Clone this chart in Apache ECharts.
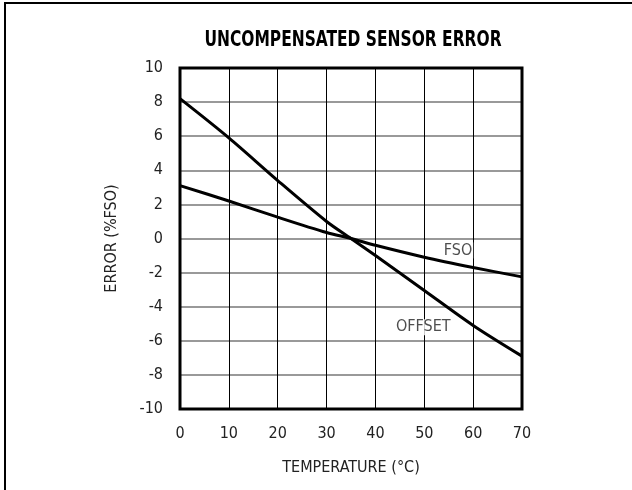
<!DOCTYPE html>
<html>
<head>
<meta charset="utf-8">
<script src="https://cdn.jsdelivr.net/npm/echarts@6/dist/echarts.min.js"></script>
<style>
  html, body { margin: 0; padding: 0; background: #fff; }
  #mychart { width: 632px; height: 490px; }
</style>
</head>
<body>
<div id="mychart"></div>
<script>
// temperature (°C)
let temps = [0, 10, 20, 30, 35, 40, 50, 60, 70]
// error (%FSO)
let offsetErr = [8.2, 5.9, 3.4, 1.0, 0.0, -1.0, -3.05, -5.1, -6.9]
let fsoErr = [3.1, 2.2, 1.25, 0.35, 0.0, -0.4, -1.1, -1.7, -2.25]

let labels = [
    { name: 'FSO', x: 56.9, y: -0.7 },
    { name: 'OFFSET', x: 49.8, y: -5.2 }
]

let chartTitle = 'UNCOMPENSATED SENSOR ERROR'

let font = '"Liberation Sans Narrow", "DejaVu Sans Condensed", sans-serif'

// plot box, shared by grid and the black frame drawn over it
let box = { left: 180, top: 68, width: 342, height: 341 }

function pairs(ys) {
    let out = []
    for (let i = 0; i < temps.length; i++) {
        out.push([temps[i], ys[i]])
    }
    return out
}

let myChart = echarts.init(document.getElementById('mychart'))

let option = {
    backgroundColor: '#fff',
    animation: false,
    graphic: [
        {
            type: 'rect',
            shape: { x: 5, y: 3, width: 700, height: 600 },
            style: { fill: 'none', stroke: '#000', lineWidth: 2 },
            silent: true
        },
        {
            // condensed heavy title, squeezed horizontally
            type: 'text',
            x: 353,
            y: 41,
            scaleX: 0.86,
            scaleY: 1.05,
            style: {
                text: chartTitle,
                font: 'bold 20px "DejaVu Sans Condensed", sans-serif',
                fill: '#000',
                align: 'center',
                verticalAlign: 'middle'
            },
            silent: true
        },
        {
            type: 'rect',
            shape: { x: box.left, y: box.top, width: box.width, height: box.height },
            style: { fill: 'none', stroke: '#000', lineWidth: 3 },
            z: 100,
            silent: true
        }
    ],
    grid: {
        left: box.left,
        top: box.top,
        width: box.width,
        height: box.height,
        show: false
    },
    xAxis: {
        type: 'value',
        min: 0,
        max: 70,
        interval: 10,
        name: 'TEMPERATURE (°C)',
        nameLocation: 'middle',
        nameGap: 51,
        nameTextStyle: { fontFamily: font, fontSize: 16, color: '#222' },
        axisLine: { show: false },
        axisTick: { show: false },
        axisLabel: { fontFamily: font, fontSize: 16, color: '#222', margin: 17 },
        splitLine: { show: true, lineStyle: { color: '#000', width: 1 } }
    },
    yAxis: {
        type: 'value',
        min: -10,
        max: 10,
        interval: 2,
        name: 'ERROR (%FSO)',
        nameLocation: 'middle',
        nameGap: 60,
        nameTextStyle: { fontFamily: font, fontSize: 16, color: '#222' },
        axisLine: { show: false },
        axisTick: { show: false },
        axisLabel: { fontFamily: font, fontSize: 16, color: '#222', margin: 17 },
        splitLine: { show: true, lineStyle: { color: '#777', width: 1.5 } }
    },
    series: [
        {
            name: 'OFFSET',
            type: 'line',
            data: pairs(offsetErr),
            smooth: 0.3,
            symbol: 'none',
            lineStyle: { color: '#000', width: 3 },
            z: 5
        },
        {
            name: 'FSO',
            type: 'line',
            data: pairs(fsoErr),
            smooth: 0.3,
            symbol: 'none',
            lineStyle: { color: '#000', width: 3 },
            z: 5
        },
        {
            type: 'scatter',
            data: labels.map(l => ({ value: [l.x, l.y], name: l.name })),
            symbolSize: 0,
            label: {
                show: true,
                position: 'inside',
                formatter: p => p.name,
                fontFamily: font,
                fontSize: 16,
                color: '#222',
                backgroundColor: '#fff',
                padding: [0, 1]
            },
            z: 6
        }
    ]
}

myChart.setOption(option)
</script>
</body>
</html>
